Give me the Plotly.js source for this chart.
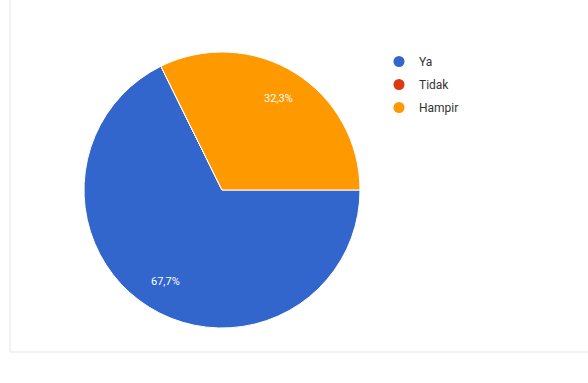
<!DOCTYPE html>
<html>
<head>
<meta charset="utf-8">
<script src="https://cdn.plot.ly/plotly-3.0.1.min.js"></script>
<style>html,body{margin:0;padding:0;background:#fff;}#chart{width:588px;height:383px;}</style>
</head>
<body>
<div id="chart"></div>
<script>
const categories = ["Ya", "Tidak", "Hampir"];
const values = [67.7, 0, 32.3];
const colors = ["#3366cc", "#dc3912", "#ff9900"];

const W = 588, H = 383;
const cx = 222, cy = 190, r = 138;
const startDeg = 0;      // slices start at 3 o'clock, going clockwise
const labelFrac = 0.78;  // label distance from the centre, as a fraction of the radius

const pie = {
  type: "pie",
  labels: categories,
  values: values,
  sort: false,
  direction: "clockwise",
  rotation: 90,
  marker: {colors: colors, line: {color: "#ffffff", width: 1}},
  textposition: "none",
  showlegend: false,
  hoverinfo: "label+percent",
  domain: {x: [(cx - r) / W, (cx + r) / W], y: [(H - cy - r) / H, (H - cy + r) / H]}
};

const legendTraces = categories.map((c, i) => ({
  type: "scatter",
  mode: "markers",
  x: [null], y: [null],
  name: c,
  legendgroup: "g" + i,
  marker: {symbol: "circle", size: 11, color: colors[i]},
  showlegend: true,
  hoverinfo: "skip"
}));

// percentage labels placed along each slice's middle angle
const total = values.reduce((a, b) => a + b, 0);
const annotations = [];
let acc = 0;
values.forEach((v) => {
  if (v > 0) {
    const mid = startDeg - (acc + v / 2) / total * 360; // clockwise => negative angle
    const rad = mid * Math.PI / 180;
    const px = cx + labelFrac * r * Math.cos(rad);
    const py = cy - labelFrac * r * Math.sin(rad);
    annotations.push({
      xref: "paper", yref: "paper",
      x: px / W, y: 1 - py / H,
      xanchor: "center", yanchor: "middle",
      text: (v / total * 100).toFixed(1).replace(".", ",") + "%",
      showarrow: false,
      font: {color: "#ffffff", size: 11, family: "Roboto, Arial, sans-serif"}
    });
  }
  acc += v;
});

const layout = {
  width: W, height: H,
  margin: {l: 0, r: 0, t: 0, b: 0},
  paper_bgcolor: "#ffffff",
  plot_bgcolor: "rgba(0,0,0,0)",
  separators: ",.",
  xaxis: {visible: false},
  yaxis: {visible: false},
  showlegend: true,
  legend: {
    x: 379 / W, y: 1 - 47 / H, xanchor: "left", yanchor: "top",
    font: {size: 12, color: "#333333", family: "Roboto, Arial, sans-serif"},
    itemwidth: 30,
    tracegroupgap: 4,
    bgcolor: "rgba(0,0,0,0)"
  },
  annotations: annotations,
  shapes: [
    {type: "line", xref: "paper", yref: "paper", x0: 10 / W, x1: 10 / W, y0: 1, y1: 1 - 352 / H, line: {color: "#e6e6e6", width: 1}},
    {type: "line", xref: "paper", yref: "paper", x0: 10 / W, x1: 1, y0: 1 - 352 / H, y1: 1 - 352 / H, line: {color: "#e6e6e6", width: 1}}
  ]
};

Plotly.newPlot("chart", [pie].concat(legendTraces), layout, {displayModeBar: false, staticPlot: true});
</script>
</body>
</html>
